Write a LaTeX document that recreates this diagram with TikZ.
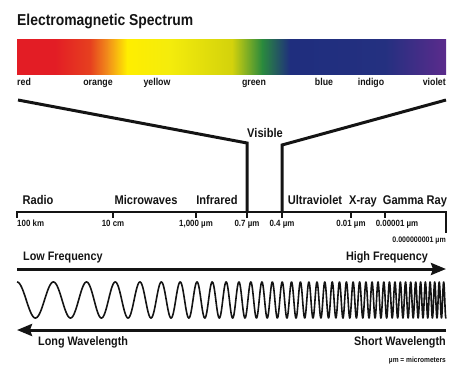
\documentclass[tikz,border=0pt]{standalone}
\usepackage{fontspec}
\setmainfont{Liberation Sans}[FakeStretch=0.88]
\usetikzlibrary{arrows.meta}
\definecolor{sp0}{HTML}{E31D25}
\definecolor{sp1}{HTML}{E6401F}
\definecolor{sp2}{HTML}{F2901A}
\definecolor{sp3}{HTML}{FFEE00}
\definecolor{sp4}{HTML}{F4EC0C}
\definecolor{sp5}{HTML}{D3D20C}
\definecolor{sp6}{HTML}{2A8A3D}
\definecolor{sp7}{HTML}{1F2E7E}
\definecolor{sp8}{HTML}{243080}
\definecolor{sp9}{HTML}{5B2B8C}
\definecolor{ink}{HTML}{141414}
\begin{document}
\begin{tikzpicture}[x=1pt,y=-1pt,
  title/.style={font=\bfseries\fontsize{15.8}{18}\selectfont, text=ink, inner sep=0pt, anchor=base west},
  band/.style={font=\bfseries\fontsize{12.6}{14}\selectfont, text=ink, inner sep=0pt, anchor=base},
  dirlbl/.style={font=\bfseries\fontsize{12.3}{14}\selectfont, text=ink, inner sep=0pt},
  small/.style={font=\bfseries\fontsize{9}{10}\selectfont, text=ink, inner sep=0pt, anchor=base},
  clr/.style={font=\bfseries\fontsize{10}{12}\selectfont, text=ink, inner sep=0pt, anchor=base},
  thick line/.style={draw=ink, line width=3pt},
  axisline/.style={draw=ink, line width=2.4pt},
  tickline/.style={draw=ink, line width=1.6pt},
  arr/.style={draw=ink, line width=3pt, -{Stealth[length=15pt,width=12pt,inset=2pt]}},
]
\useasboundingbox (0,0) rectangle (474,381);

% title
\node[title] (title) at (17,25) {Electromagnetic Spectrum};

% spectrum bar
\shade[left color=sp0, right color=sp0] (17,39) rectangle (55.3,74);
\shade[left color=sp0, right color=sp1] (55,39) rectangle (90.3,74);
\shade[left color=sp1, right color=sp2] (90,39) rectangle (108.3,74);
\shade[left color=sp2, right color=sp3] (108,39) rectangle (127.3,74);
\shade[left color=sp3, right color=sp4] (127,39) rectangle (170.3,74);
\shade[left color=sp4, right color=sp5] (170,39) rectangle (232.3,74);
\shade[left color=sp5, right color=sp6] (232,39) rectangle (262.3,74);
\shade[left color=sp6, right color=sp7] (262,39) rectangle (290.3,74);
\shade[left color=sp7, right color=sp8] (290,39) rectangle (385.3,74);
\shade[left color=sp8, right color=sp9] (385,39) rectangle (446,74);
\coordinate (barL) at (17,74);
\coordinate (barR) at (446,74);

% colour names
\node[clr, anchor=base west] (cred) at (17,85) {red};
\node[clr] (corange) at (98,85) {orange};
\node[clr] (cyellow) at (157,85) {yellow};
\node[clr] (cgreen) at (254,85) {green};
\node[clr] (cblue) at (324,85) {blue};
\node[clr] (cindigo) at (371,85) {indigo};
\node[clr, anchor=base east] (cviolet) at (446,85) {violet};

% visible funnel
\coordinate (fL0) at (18,100);
\coordinate (fL1) at (247,143);
\coordinate (fR0) at (446,100);
\coordinate (fR1) at (282,145);
\coordinate (t07) at (247,212);
\coordinate (t04) at (282,212);
\draw[thick line] (fL0) -- (fL1) -- (t07);
\draw[thick line] (fR0) -- (fR1) -- (t04);
\node[band] (visible) at (265,137) {Visible};

% axis
\coordinate (ax0) at (17,212);
\coordinate (ax1) at (446,212);
\draw[axisline] (ax0) -- (ax1);
\draw[tickline] (17,211) -- (17,218);
\draw[tickline] (113,212) -- (113,218);
\draw[tickline] (196,212) -- (196,218);
\draw[tickline] (247,212) -- (247,218);
\draw[tickline] (282,212) -- (282,218);
\draw[tickline] (351,212) -- (351,218);
\draw[tickline] (385,212) -- (385,218);
\draw[tickline] (446,211) -- (446,233);

% band labels
\node[band] (radio) at (38,204) {Radio};
\node[band] (micro) at (146,204) {Microwaves};
\node[band] (ir) at (217,204) {Infrared};
\node[band] (uv) at (315,204) {Ultraviolet};
\node[band] (xray) at (363,204) {X-ray};
\node[band] (gamma) at (415,204) {Gamma Ray};

% tick labels
\node[small, anchor=base west] (l100km) at (17,226) {100 km};
\node[small] (l10cm) at (113,226) {10 cm};
\node[small] (l1000) at (196,226) {1,000 µm};
\node[small] (l07) at (247,226) {0.7 µm};
\node[small] (l04) at (282,226) {0.4 µm};
\node[small] (l001) at (351,226) {0.01 µm};
\node[small] (l00001) at (397,226) {0.00001 µm};
\node[small, font=\bfseries\fontsize{8}{10}\selectfont, anchor=base east] (l1e9) at (446,242) {0.000000001 µm};

% frequency arrow
\node[dirlbl, anchor=base west] (lowf) at (23,260) {Low Frequency};
\node[dirlbl, anchor=base east] (highf) at (428,260) {High Frequency};
\coordinate (fq0) at (17,269);
\coordinate (fq1) at (446,269);
\draw[arr] (fq0) -- (fq1);

% wave
\draw[draw=ink, line width=1.6pt, line join=round]
  plot[domain=0:429, samples=2400, variable=\u]
  ({17+\u}, {300-18*cos(9.72*\u + 132*(\u/100)^3)});

% wavelength arrow
\coordinate (wl0) at (446,330);
\coordinate (wl1) at (17,330);
\draw[arr] (wl0) -- (wl1);
\node[dirlbl, anchor=base west] (longw) at (38,345) {Long Wavelength};
\node[dirlbl, anchor=base east] (shortw) at (446,345) {Short Wavelength};
\node[small, font=\bfseries\fontsize{7.5}{9}\selectfont, anchor=base east] (um) at (446,362) {µm = micrometers};
\end{tikzpicture}
\end{document}
